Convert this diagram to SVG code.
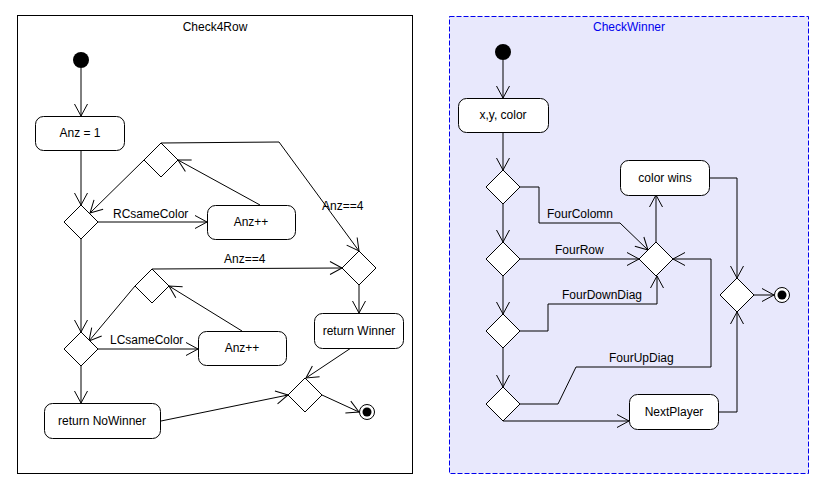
<svg xmlns="http://www.w3.org/2000/svg" width="835" height="490" viewBox="0 0 835 490">
<defs>
<marker id="arr" markerUnits="userSpaceOnUse" markerWidth="16" markerHeight="16" viewBox="-14 -8 16 16" refX="0" refY="0" orient="auto">
<path d="M-12,-6.5 L0,0 L-12,6.5" fill="none" stroke="#000" stroke-width="1"/>
</marker>
</defs>
<style>
text{font-family:"Liberation Sans",Arial,sans-serif;font-size:12px;fill:#000}
.c{text-anchor:middle}
.box{fill:#fff;stroke:#000;stroke-width:1}
.dia{fill:#fff;stroke:#000;stroke-width:1}
.e{fill:none;stroke:#000;stroke-width:1;marker-end:url(#arr)}
.rb{fill:none;stroke:#000;stroke-width:1}
</style>
<rect x="17.5" y="15.5" width="395" height="458" fill="#fff" stroke="#000"/>
<text class="c" x="215" y="31">Check4Row</text>
<rect x="449.5" y="16.5" width="359" height="457" fill="#e8e8fc" stroke="#0000ee" stroke-dasharray="5,2"/>
<text class="c" x="629" y="31" style="fill:#0000ee">CheckWinner</text>

<g id="connectors">
<path class="e" d="M81,68 L81,116"/>
<path class="e" d="M81,150 L81,205"/>
<path class="e" d="M98,222 L207,222"/>
<path class="e" d="M260,205 L178,160"/>
<path class="e" d="M144,160 L90,213"/>
<path class="e" d="M161,143 L279,142 L359,251"/>
<path class="e" d="M81,239 L81,332"/>
<path class="e" d="M98,349 L198,349"/>
<path class="e" d="M242,331 L169,286"/>
<path class="e" d="M135,286 L89,341"/>
<path class="e" d="M152,269 L342,268"/>
<path class="e" d="M359,285 L359,313"/>
<path class="e" d="M351,348 L306,378"/>
<path class="e" d="M322,395 L359,412"/>
<path class="e" d="M81,366 L81,403"/>
<path class="e" d="M161,421 L288,395"/>
<text x="113" y="218">RCsameColor</text>
<text x="322" y="210">Anz==4</text>
<text x="110" y="344">LCsameColor</text>
<text x="224" y="263">Anz==4</text>

<path class="e" d="M503,60 L503,98"/>
<path class="e" d="M503,132 L503,170"/>
<path class="e" d="M520,187 L539,187 L539,223 L620,223 L648,250"/>
<path class="e" d="M503,204 L503,242"/>
<path class="e" d="M520,259 L639,259"/>
<path class="e" d="M503,276 L503,314"/>
<path class="e" d="M520,331 L548,331 L548,304 L657,304 L657,276"/>
<path class="e" d="M503,348 L503,387"/>
<path class="e" d="M520,404 L558,404 L576,367 L711,367 L711,259 L673,259"/>
<path class="e" d="M503,421 L629,421"/>
<path class="e" d="M656,242 L656,195"/>
<path class="e" d="M709,178 L737,178 L737,278"/>
<path class="e" d="M754,295 L774,295"/>
<path class="e" d="M718,412 L737,412 L737,312"/>
<text x="547" y="218">FourColomn</text>
<text x="555" y="254">FourRow</text>
<text x="562" y="299">FourDownDiag</text>
<text x="609" y="362">FourUpDiag</text>
</g>

<g id="start1"><circle cx="81" cy="60" r="8" fill="#000"/></g>
<g id="anz1"><rect class="box" x="35.5" y="116.5" width="89" height="34" rx="8"/><text class="c" x="80" y="137">Anz = 1</text></g>
<g id="d1"><polygon class="dia" points="81,205 98,222 81,239 64,222"/></g>
<g id="dA"><polygon class="dia" points="161,143 178,160 161,177 144,160"/></g>
<g id="anzpp1"><rect class="box" x="207.5" y="205.5" width="88" height="34" rx="8"/><text class="c" x="251" y="226">Anz++</text></g>
<g id="dC"><polygon class="dia" points="359,251 376,268 359,285 342,268"/></g>
<g id="d2"><polygon class="dia" points="81,332 98,349 81,366 64,349"/></g>
<g id="dB"><polygon class="dia" points="152,269 169,286 152,303 135,286"/></g>
<g id="anzpp2"><rect class="box" x="198.5" y="331.5" width="88" height="34" rx="8"/><text class="c" x="242" y="352">Anz++</text></g>
<g id="retWinner"><rect class="box" x="314.5" y="313.5" width="89" height="35" rx="8"/><text class="c" x="359" y="335">return Winner</text></g>
<g id="dD"><polygon class="dia" points="305,378 322,395 305,412 288,395"/></g>
<g id="end1"><circle cx="367" cy="412" r="7.5" fill="#fff" stroke="#000"/><circle cx="367" cy="412" r="4.5" fill="#000"/></g>
<g id="retNoWinner"><rect class="box" x="44.5" y="403.5" width="116" height="35" rx="8"/><text class="c" x="102" y="425">return NoWinner</text></g>

<g id="start2"><circle cx="503" cy="52" r="8" fill="#000"/></g>
<g id="xycolor"><rect class="box" x="458.5" y="98.5" width="90" height="34" rx="8"/><text class="c" x="503" y="119">x,y, color</text></g>
<g id="dE"><polygon class="dia" points="503,170 520,187 503,204 486,187"/></g>
<g id="dH"><polygon class="dia" points="503,242 520,259 503,276 486,259"/></g>
<g id="dI"><polygon class="dia" points="503,314 520,331 503,348 486,331"/></g>
<g id="dJ"><polygon class="dia" points="503,387 520,404 503,421 486,404"/></g>
<g id="dF"><polygon class="dia" points="656,242 673,259 656,276 639,259"/></g>
<g id="colorwins"><rect class="box" x="620.5" y="160.5" width="89" height="35" rx="8"/><text class="c" x="665" y="182">color wins</text></g>
<g id="dG"><polygon class="dia" points="737,278 754,295 737,312 720,295"/></g>
<g id="end2"><circle cx="782" cy="295" r="7.5" fill="#fff" stroke="#000"/><circle cx="782" cy="295" r="4.5" fill="#000"/></g>
<g id="nextPlayer"><rect class="box" x="629.5" y="394.5" width="89" height="35" rx="8"/><text class="c" x="674" y="416">NextPlayer</text></g>
</svg>
